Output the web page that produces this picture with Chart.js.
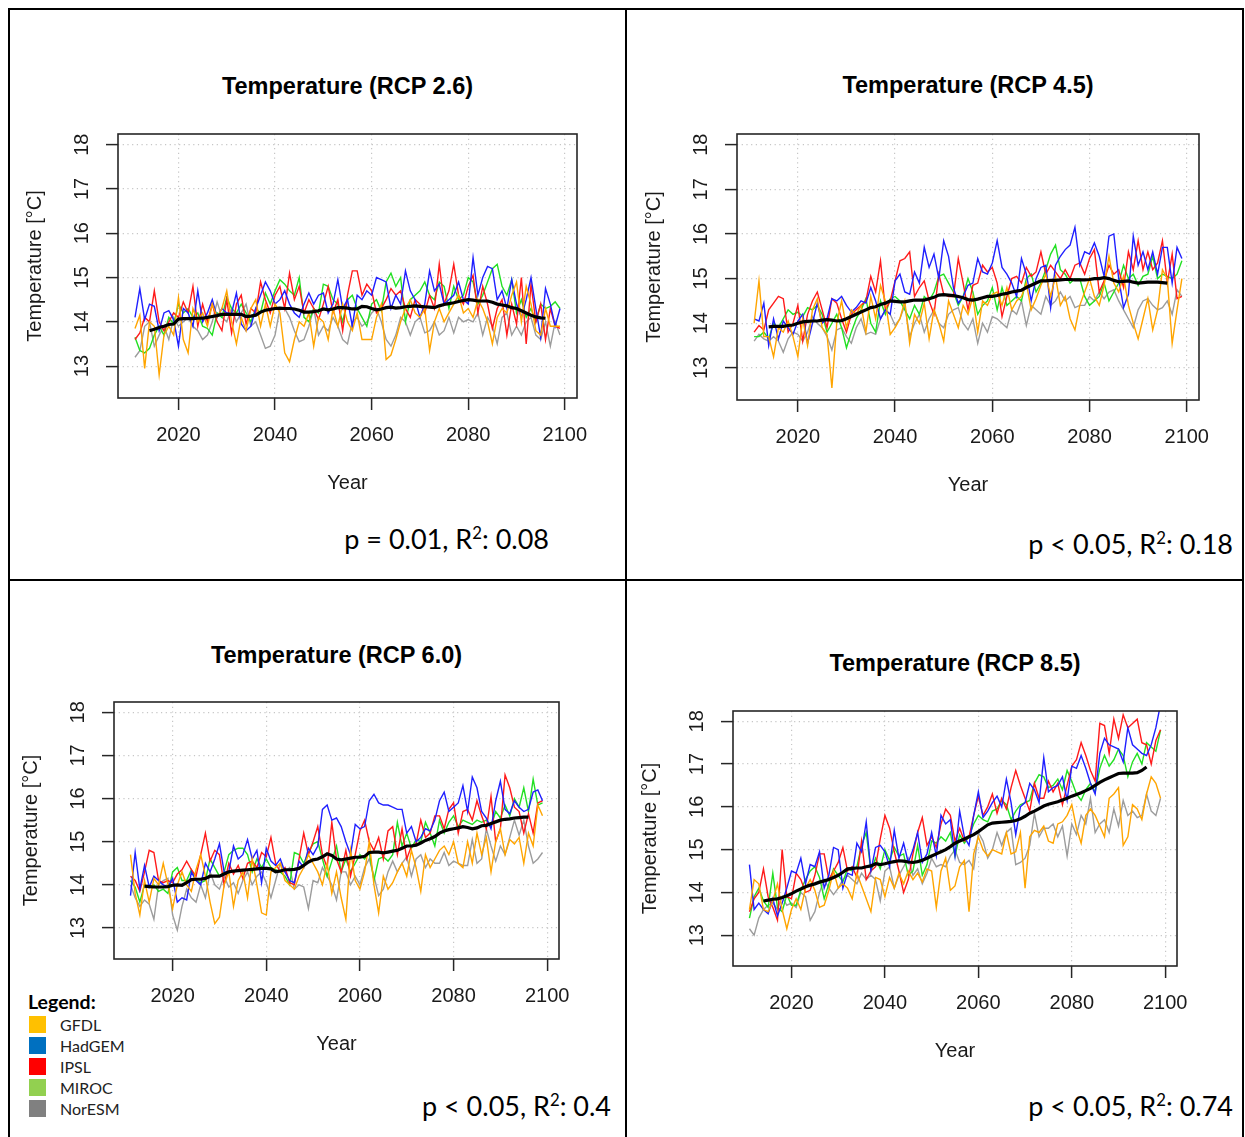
<!DOCTYPE html>
<html lang="en">
<head>
<meta charset="UTF-8">
<title>Temperature (RCP)</title>
<script src="https://cdn.jsdelivr.net/npm/chart.js@4.4.1/dist/chart.umd.min.js"></script>
<style>
  html, body { margin: 0; padding: 0; background: #fff; }
  #page { position: relative; width: 1245px; height: 1137px; overflow: hidden;
          font-family: "Liberation Sans", Arial, sans-serif; color: #1a1a1a; }
  .rule { position: absolute; background: #000; }
  canvas { position: absolute; }
  .title { position: absolute; width: 400px; text-align: center; font-weight: bold;
           font-size: 23.5px; line-height: 28px; color: #000; }
  .stat { position: absolute; font-family: Lato, "Open Sans", sans-serif; font-size: 27px;
          line-height: 32px; white-space: nowrap; color: #000; }
  .stat sup { font-size: 62%; line-height: 0; vertical-align: 0.62em; }
  .leghead { position: absolute; left: 28px; top: 991px; font-family: Lato, sans-serif;
             font-weight: bold; font-size: 19.5px; line-height: 22px; color: #000; }
  .legitem { position: absolute; left: 29px; height: 18px; font-family: Lato, sans-serif;
             font-size: 16px; line-height: 18px; color: #222; }
  .legitem span { position: absolute; left: 0; top: 0; width: 17px; height: 17px; }
  .legitem b { position: absolute; left: 31px; top: 0; font-weight: normal; white-space: nowrap; }
</style>
</head>
<body>
<div id="page">
  <div class="rule" style="left:8px;top:8px;width:2px;height:1129px"></div>
  <div class="rule" style="left:8px;top:8px;width:1236px;height:2px"></div>
  <div class="rule" style="left:625px;top:8px;width:2px;height:1129px"></div>
  <div class="rule" style="left:8px;top:579px;width:1236px;height:2px"></div>
  <div class="rule" style="left:1242px;top:8px;width:2px;height:1129px"></div>

  <div class="stat" style="right:696px;top:523px">p = 0.01, R<sup>2</sup>: 0.08</div>
  <div class="stat" style="right:12px;top:528px">p &lt; 0.05, R<sup>2</sup>: 0.18</div>
  <div class="stat" style="right:634px;top:1090px">p &lt; 0.05, R<sup>2</sup>: 0.4</div>
  <div class="stat" style="right:12px;top:1090px">p &lt; 0.05, R<sup>2</sup>: 0.74</div>

  <div class="leghead">Legend:</div>
  <div id="legend"></div>
</div>

<script>
// years of the model runs and of the smoothed ensemble line
const years = [2011, 2012, 2013, 2014, 2015, 2016, 2017, 2018, 2019, 2020,
  2021, 2022, 2023, 2024, 2025, 2026, 2027, 2028, 2029, 2030,
  2031, 2032, 2033, 2034, 2035, 2036, 2037, 2038, 2039, 2040,
  2041, 2042, 2043, 2044, 2045, 2046, 2047, 2048, 2049, 2050,
  2051, 2052, 2053, 2054, 2055, 2056, 2057, 2058, 2059, 2060,
  2061, 2062, 2063, 2064, 2065, 2066, 2067, 2068, 2069, 2070,
  2071, 2072, 2073, 2074, 2075, 2076, 2077, 2078, 2079, 2080,
  2081, 2082, 2083, 2084, 2085, 2086, 2087, 2088, 2089, 2090,
  2091, 2092, 2093, 2094, 2095, 2096, 2097, 2098, 2099];
const meanYears = years.slice(3, 86); // 2014 - 2096

const xTicks = [2020, 2040, 2060, 2080, 2100];
const yTicks = [13, 14, 15, 16, 17, 18];

const models = ['GFDL', 'HadGEM', 'IPSL', 'MIROC', 'NorESM'];
const lineColors = ['#ffa500', '#1f1fff', '#ff1a1a', '#22e022', '#9c9c9c'];
const legendColors = ['#ffc000', '#0070c0', '#ff0000', '#92d050', '#808080'];

// ---- RCP 2.6 ----
const gfdl26 = [13.85, 14.15, 12.95, 14.0, 13.9, 12.8, 13.7, 13.9, 13.7, 14.55,
  13.6, 13.3, 14.3, 14.0, 14.2, 13.9, 14.4, 14.1, 14.3, 14.7,
  14.0, 13.5, 14.1, 13.8, 14.3, 14.5, 13.9, 14.4, 13.9, 14.4,
  14.2, 13.3, 13.1, 13.6, 14.0, 13.9, 14.2, 13.45, 14.1, 14.0,
  13.6, 14.3, 13.9, 14.4, 14.0, 13.8, 14.2, 13.6, 13.6, 13.6,
  14.1, 14.4, 13.15, 13.25, 13.6, 14.0, 14.3, 14.5, 14.2, 14.1,
  14.3, 13.35, 14.0, 14.3, 14.0, 14.2, 14.4, 14.6, 14.2, 14.3,
  14.1, 14.5, 14.3, 14.0, 13.5, 14.1, 14.3, 14.2, 14.6, 14.9,
  14.0, 14.8, 14.4, 13.8, 13.7, 14.3, 13.9, 13.9, 13.9];
const hadgem26 = [14.1, 14.75, 14.05, 14.4, 14.35, 13.8, 14.2, 14.25, 14.05, 13.45,
  14.3, 14.2, 13.9, 14.7, 14.0, 14.2, 14.5, 14.1, 14.3, 14.2,
  14.2, 14.65, 13.95, 13.8, 13.9, 14.3, 14.6, 14.9, 14.7, 14.4,
  14.5, 14.7, 14.4, 14.2, 14.1, 14.4, 14.65, 14.4, 14.6, 14.65,
  14.2, 14.4, 14.95, 14.3, 14.5, 13.9, 14.6, 14.5, 14.7, 14.6,
  15.0, 14.95, 14.9, 14.3, 14.6, 14.4, 15.15, 14.7, 14.5, 14.1,
  14.4, 15.15, 14.7, 14.85, 14.4, 14.5, 14.6, 14.9, 14.5, 14.4,
  15.45, 14.6, 15.0, 15.25, 15.2, 14.5, 14.7, 14.3, 14.95, 14.4,
  14.1, 14.5, 15.0, 14.3, 13.65, 14.75, 14.4, 13.9, 14.3];
const ipsl26 = [13.6, 13.75, 14.1, 14.0, 14.7, 14.0, 13.8, 14.0, 14.2, 14.1,
  14.45, 14.2, 14.8, 13.9, 14.4, 14.0, 14.4, 14.0, 13.8, 14.5,
  13.75, 14.4, 14.6, 13.95, 14.3, 14.2, 14.9, 14.5, 14.2, 14.6,
  14.8, 14.3, 15.1, 14.5, 14.8, 14.2, 14.5, 14.3, 14.05, 14.4,
  14.8, 14.2, 14.5, 13.8, 14.6, 15.15, 15.15, 14.6, 14.85, 14.7,
  14.2, 14.3, 14.5, 14.75, 14.6, 14.7, 14.3, 14.1, 14.5, 14.4,
  14.2, 14.6, 14.3, 15.3, 14.4, 14.7, 15.3, 14.6, 14.4, 14.8,
  15.05, 14.2, 14.8, 14.4, 13.85, 14.3, 14.5, 13.7, 14.4, 13.95,
  15.0, 13.5, 14.85, 14.0, 14.4, 13.6, 14.3, 13.9, 13.85];
const miroc26 = [13.65, 13.35, 13.3, 13.4, 13.7, 13.9, 13.7, 14.1, 13.95, 14.4,
  14.2, 14.3, 14.1, 14.2, 13.9, 13.85, 13.7, 14.2, 14.1, 14.55,
  14.3, 14.2, 14.4, 14.2, 14.0, 14.3, 14.2, 14.65, 14.4, 14.7,
  14.95, 14.85, 14.7, 14.6, 15.0, 14.1, 14.0, 14.3, 14.2, 14.85,
  14.8, 14.5, 14.4, 14.0, 14.5, 14.6, 14.3, 14.1, 13.9, 14.4,
  14.5, 14.25, 14.9, 15.1, 14.8, 15.0, 14.0, 14.5, 14.6, 14.7,
  14.9, 14.6, 14.5, 14.9, 14.8, 14.3, 14.8, 14.5, 14.6, 15.0,
  14.9, 14.4, 14.6, 14.9, 15.2, 15.3, 14.8, 14.6, 14.95, 14.2,
  14.5, 14.1, 14.3, 14.0, 14.4, 14.3, 14.35, 14.45, 14.3];
const noresm26 = [13.2, 13.35, 13.9, 14.0, 13.45, 13.7, 13.9, 13.6, 14.1, 13.9,
  14.0, 14.1, 13.9, 13.8, 13.6, 13.7, 14.0, 14.45, 14.1, 14.0,
  14.3, 14.0, 14.2, 14.4, 13.9, 14.0, 13.7, 13.4, 13.45, 13.7,
  14.3, 14.3, 14.1, 13.8, 13.55, 13.6, 13.9, 14.3, 13.7, 13.9,
  13.8, 14.1, 13.9, 13.6, 13.5, 14.0, 14.1, 13.9, 14.0, 14.2,
  14.3, 14.0, 13.6, 13.45, 13.7, 14.1, 14.0, 13.7, 14.0, 14.1,
  13.75, 13.8, 14.0, 13.7, 13.8, 14.1, 13.75, 14.1, 14.0, 14.05,
  14.0, 14.2, 13.7, 14.1, 13.9, 13.5, 14.1, 14.2, 13.7, 13.9,
  13.7, 14.0, 14.1, 13.7, 13.6, 14.0, 13.45, 14.0, 13.7];
const mean26 = [13.80, 13.83, 13.87, 13.90, 13.94, 13.95, 14.06,
  14.07, 14.07, 14.07, 14.08, 14.08, 14.10, 14.12, 14.14, 14.17, 14.17,
  14.17, 14.17, 14.17, 14.12, 14.13, 14.15, 14.22, 14.26, 14.28, 14.30,
  14.31, 14.30, 14.30, 14.29, 14.26, 14.22, 14.22, 14.23, 14.25, 14.29,
  14.27, 14.29, 14.32, 14.32, 14.31, 14.29, 14.29, 14.35, 14.34, 14.30,
  14.27, 14.29, 14.32, 14.33, 14.31, 14.32, 14.34, 14.35, 14.36, 14.35,
  14.34, 14.33, 14.32, 14.36, 14.39, 14.41, 14.43, 14.46, 14.48, 14.50,
  14.49, 14.47, 14.47, 14.47, 14.44, 14.40, 14.38, 14.36, 14.32, 14.30,
  14.25, 14.20, 14.15, 14.11, 14.09, 14.08];

// ---- RCP 4.5 ----
const gfdl45 = [14.0, 14.95, 13.7, 13.7, 13.25, 13.9, 13.8, 14.05, 13.7, 13.25,
  14.1, 13.5, 14.3, 14.55, 13.9, 13.75, 12.55, 14.0, 14.5, 13.9,
  14.3, 14.2, 14.4, 13.8, 14.6, 14.1, 14.85, 14.5, 13.75, 13.9,
  14.1, 14.5, 13.55, 14.2, 14.0, 14.45, 13.65, 14.3, 14.0, 13.6,
  14.5, 14.2, 13.9, 14.4, 14.2, 14.6, 13.8, 14.5, 14.4, 14.65,
  14.7, 14.4, 14.8, 14.3, 14.5, 14.6, 14.9, 14.3, 14.55, 14.85,
  15.1, 14.6, 15.05, 14.4, 14.6, 14.1, 13.85, 14.4, 14.7, 15.0,
  14.6, 14.4, 14.85, 15.5, 14.9, 14.7, 15.05, 14.4, 14.0, 13.65,
  14.1, 14.55, 13.85, 14.3, 15.2, 15.0, 13.55, 14.3, 15.0];
const hadgem45 = [14.1, 14.05, 14.45, 13.5, 14.1, 13.65, 14.05, 13.9, 13.75, 14.05,
  14.2, 13.55, 14.0, 14.45, 14.0, 14.1, 14.55, 14.5, 14.6, 14.4,
  14.25, 14.35, 14.5, 14.45, 14.8, 14.5, 14.1, 14.3, 14.2, 14.95,
  15.1, 14.7, 14.65, 15.15, 14.9, 15.7, 15.25, 15.55, 15.0, 15.85,
  15.5, 14.8, 14.45, 14.6, 14.85, 14.9, 15.45, 15.15, 15.1, 15.35,
  15.85, 15.25, 15.1, 14.9, 14.6, 15.45, 15.1, 14.5, 15.0, 15.25,
  15.3, 14.35, 15.3, 15.5, 15.65, 15.75, 16.15, 15.3, 15.6, 15.55,
  15.8, 15.5, 15.05, 15.95, 16.0, 15.0, 14.35, 14.65, 15.95, 15.3,
  15.6, 15.2, 15.6, 15.1, 15.7, 15.7, 14.9, 15.7, 15.45];
const ipsl45 = [13.8, 13.95, 13.85, 14.3, 14.45, 14.6, 14.55, 13.8, 14.0, 14.4,
  13.6, 14.2, 14.5, 14.7, 14.3, 13.9, 14.55, 14.45, 14.1, 13.8,
  14.2, 14.3, 14.4, 14.5, 15.05, 14.7, 15.4, 14.3, 14.5, 14.95,
  15.4, 15.45, 15.6, 14.6, 14.8, 14.95, 14.5, 14.2, 15.1, 14.65,
  14.6, 14.6, 15.45, 14.9, 14.3, 14.85, 14.9, 15.3, 15.15, 15.25,
  14.9, 14.15, 14.6, 15.0, 15.05, 14.9, 15.25, 15.05, 15.15, 15.6,
  15.1, 15.3, 15.15, 15.0, 15.2, 15.0, 15.3, 15.35, 15.1, 15.45,
  15.65, 14.7, 14.95, 15.3, 15.1, 15.2, 14.8, 15.6, 15.2, 15.85,
  15.2, 15.6, 15.2, 15.35, 15.85, 14.9, 15.55, 14.55, 14.6];
const miroc45 = [13.7, 13.7, 13.8, 13.65, 14.0, 13.9, 14.1, 14.3, 14.2, 14.25,
  14.15, 14.35, 14.3, 14.4, 14.2, 13.8, 14.0, 14.2, 13.9, 13.45,
  13.8, 14.1, 14.3, 14.55, 14.0, 13.8, 14.5, 14.2, 14.55, 14.6,
  14.5, 14.3, 14.1, 14.4, 14.2, 14.6, 14.5, 14.7, 15.05, 15.1,
  14.9, 14.7, 14.4, 14.6, 15.0, 14.7, 14.2, 14.4, 14.5, 14.8,
  14.3, 14.8, 14.4, 14.5, 14.6, 14.5, 15.0, 15.1, 14.7, 14.9,
  15.2, 15.55, 15.75, 15.2, 15.1, 14.9, 15.0, 15.0, 14.6, 14.4,
  14.5, 14.6, 14.9, 14.5, 14.7, 14.9, 15.3, 15.0, 15.1, 14.85,
  15.05, 15.1, 15.5, 15.0, 15.1, 15.05, 15.0, 15.1, 15.4];
const noresm45 = [13.6, 13.75, 13.65, 13.6, 13.7, 13.6, 13.35, 13.65, 13.8, 13.75,
  13.6, 13.8, 14.15, 14.0, 13.9, 13.7, 13.4, 13.85, 13.9, 13.7,
  13.55, 13.9, 14.1, 13.75, 13.8, 13.75, 14.1, 14.3, 14.2, 13.95,
  14.1, 14.4, 13.7, 14.0, 14.2, 13.8, 14.1, 14.3, 14.0, 13.9,
  14.2, 14.3, 14.35, 14.0, 13.85, 14.1, 13.55, 14.0, 13.8, 14.15,
  14.1, 14.0, 13.9, 14.3, 14.2, 14.5, 13.95, 14.4, 14.3, 14.2,
  14.6, 14.4, 14.5, 14.7, 14.5, 14.6, 14.35, 14.4, 14.4, 14.6,
  14.5, 14.7, 14.55, 14.7, 14.75, 14.5, 14.3, 14.1, 13.9, 14.3,
  14.5, 14.55, 14.4, 14.3, 14.35, 14.5, 14.2, 14.75, 14.6];
const mean45 = [13.92, 13.93, 13.93, 13.93, 13.95, 13.96, 14.00,
  14.03, 14.04, 14.05, 14.05, 14.07, 14.08, 14.07, 14.05, 14.06, 14.10,
  14.15, 14.20, 14.25, 14.30, 14.35, 14.37, 14.42, 14.45, 14.50, 14.49,
  14.48, 14.48, 14.50, 14.52, 14.52, 14.52, 14.55, 14.58, 14.63, 14.64,
  14.63, 14.62, 14.60, 14.57, 14.53, 14.52, 14.54, 14.57, 14.60, 14.60,
  14.62, 14.65, 14.67, 14.70, 14.72, 14.74, 14.80, 14.85, 14.90, 14.95,
  14.95, 14.96, 14.96, 14.97, 14.98, 14.98, 14.97, 14.97, 14.97, 14.98,
  15.00, 15.00, 15.02, 15.00, 14.96, 14.93, 14.94, 14.95, 14.92, 14.90,
  14.91, 14.92, 14.92, 14.92, 14.91, 14.90];

// ---- RCP 6.0 ----
const gfdl60 = [14.7, 13.8, 13.3, 14.1, 13.6, 14.15, 14.0, 14.5, 14.0, 13.45,
  14.0, 14.3, 14.0, 13.85, 14.35, 14.7, 14.2, 13.6, 13.1, 13.25,
  14.0, 14.3, 13.5, 14.1, 14.3, 13.7, 14.6, 14.0, 13.35, 13.3,
  14.3, 14.4, 14.5, 14.1, 14.0, 13.9, 14.2, 14.4, 14.7, 14.5,
  14.3, 14.0, 14.5, 13.8, 14.3, 13.7, 13.2, 14.8, 14.1, 13.9,
  14.3, 15.0, 14.0, 13.35, 14.2, 13.9, 14.05, 14.3, 14.5, 14.2,
  14.8, 14.4, 13.85, 14.7, 14.4, 14.6, 14.8, 14.9, 14.7, 15.0,
  14.5, 14.4, 15.0, 14.5, 15.2, 14.7, 15.1, 14.3, 15.0, 15.3,
  14.7, 15.05, 14.95, 15.1, 14.5, 15.2, 14.9, 15.85, 15.6];
const hadgem60 = [13.75, 14.75, 13.9, 14.45, 13.95, 14.2, 14.1, 14.0, 13.95, 14.15,
  13.6, 13.7, 13.65, 14.3, 14.1, 14.0, 14.5, 14.3, 14.6, 14.95,
  14.3, 14.3, 14.9, 14.6, 14.7, 15.05, 14.6, 14.8, 14.05, 14.85,
  14.55, 14.45, 14.6, 14.3, 14.1, 14.05, 14.55, 14.4, 14.85, 14.7,
  14.9, 15.75, 15.85, 15.5, 15.55, 15.35, 15.0, 14.7, 15.4, 15.3,
  15.35, 15.95, 16.1, 15.9, 15.85, 15.85, 15.8, 15.75, 15.75, 15.2,
  15.35, 15.0, 15.1, 15.3, 15.25, 15.5, 15.95, 16.15, 15.7, 15.8,
  15.9, 16.3, 15.7, 16.5, 16.25, 15.7, 15.55, 15.3, 15.95, 16.4,
  15.75, 15.65, 15.95, 15.8, 15.7, 15.75, 16.15, 16.2, 15.95];
const ipsl60 = [14.2, 14.1, 13.85, 14.3, 14.8, 14.75, 14.1, 14.05, 14.1, 14.05,
  14.25, 14.35, 14.55, 14.35, 14.2, 14.7, 15.2, 14.55, 14.8, 14.7,
  14.0, 14.5, 14.25, 14.45, 14.15, 14.5, 14.55, 14.4, 14.75, 14.65,
  15.1, 14.5, 14.3, 14.4, 14.05, 14.0, 14.6, 15.2, 14.7, 15.0,
  15.35, 14.7, 14.4, 15.45, 14.6, 14.3, 14.8, 14.2, 14.7, 15.25,
  15.5, 15.0, 14.8, 15.1, 14.6, 15.25, 15.35, 14.7, 15.3, 14.6,
  14.9, 14.95, 15.5, 15.1, 15.2, 15.6, 15.6, 15.3, 15.75, 15.9,
  15.2, 15.7, 15.75, 15.5, 15.95, 15.6, 15.3, 16.05, 15.0, 15.3,
  16.55, 16.25, 15.8, 15.7, 15.2, 15.65, 15.2, 15.9, 15.95];
const miroc60 = [14.1, 13.95, 13.6, 14.0, 13.95, 14.0, 13.85, 13.9, 13.8, 14.3,
  14.4, 14.1, 14.1, 14.35, 14.1, 14.05, 14.1, 14.6, 14.4, 14.2,
  14.3, 14.7, 14.8, 14.85, 14.85, 14.7, 14.3, 14.6, 14.4, 14.6,
  14.4, 14.35, 14.3, 14.2, 14.0, 14.75, 14.7, 14.5, 14.75, 14.95,
  15.0, 14.6, 14.2, 14.55, 14.9, 14.3, 14.6, 14.3, 14.5, 14.7,
  14.6, 14.75, 14.1, 14.6, 14.65, 14.55, 14.7, 15.45, 14.9, 15.2,
  14.85, 15.05, 15.0, 15.45, 15.2, 14.9, 15.5, 15.2, 15.45, 15.6,
  15.35, 15.5, 15.45, 15.4, 15.5, 15.45, 15.5, 15.35, 15.7, 15.55,
  15.85, 15.6, 16.0, 15.8, 16.25, 15.7, 16.45, 15.85, 15.9];
const noresm60 = [14.0, 13.7, 13.5, 13.65, 13.55, 13.2, 14.0, 14.1, 14.15, 13.3,
  12.95, 13.5, 13.9, 13.7, 13.6, 14.0, 13.7, 14.3, 14.0, 13.9,
  14.2, 13.95, 14.05, 13.8, 14.1, 14.3, 14.0, 14.2, 14.3, 14.05,
  13.7, 14.1, 14.5, 14.3, 14.4, 13.9, 14.0, 13.95, 13.45, 14.1,
  14.05, 14.4, 14.2, 14.0, 13.65, 14.3, 14.3, 14.0, 14.2, 14.0,
  14.4, 14.6, 14.2, 13.75, 13.9, 14.3, 14.55, 14.3, 14.5, 14.65,
  14.2, 14.6, 14.7, 14.4, 14.6, 14.5, 14.5, 14.75, 14.45, 14.55,
  14.5, 14.45, 14.45, 15.05, 14.5, 14.6, 15.3, 14.9, 14.55, 14.9,
  14.7, 15.1, 15.5, 15.15, 15.5, 14.9, 14.5, 14.6, 14.75];
const mean60 = [13.97, 13.96, 13.95, 13.95, 13.95, 13.96, 13.99,
  14.00, 13.99, 14.05, 14.12, 14.13, 14.13, 14.15, 14.20, 14.20, 14.20,
  14.25, 14.30, 14.32, 14.33, 14.34, 14.35, 14.36, 14.37, 14.38, 14.38,
  14.37, 14.30, 14.32, 14.35, 14.35, 14.36, 14.38, 14.45, 14.53, 14.58,
  14.60, 14.65, 14.72, 14.68, 14.60, 14.58, 14.60, 14.62, 14.64, 14.64,
  14.66, 14.75, 14.76, 14.76, 14.74, 14.76, 14.78, 14.80, 14.85, 14.90,
  14.90, 14.92, 14.97, 15.03, 15.07, 15.12, 15.20, 15.25, 15.28, 15.30,
  15.32, 15.35, 15.33, 15.30, 15.32, 15.37, 15.38, 15.42, 15.46, 15.50,
  15.52, 15.53, 15.55, 15.56, 15.57, 15.57];

// ---- RCP 8.5 ----
const gfdl85 = [13.6, 14.3, 14.2, 13.6, 13.55, 13.8, 14.2, 13.6, 13.15, 13.6,
  13.85, 13.6, 14.1, 14.3, 14.05, 13.65, 13.7, 14.05, 14.5, 14.1,
  14.2, 14.1, 13.85, 14.45, 14.15, 13.85, 13.55, 14.35, 14.3, 13.9,
  14.35, 14.1, 14.45, 14.2, 14.5, 14.3, 14.45, 14.25, 14.55, 14.5,
  13.65, 14.5, 14.8, 14.05, 14.15, 14.6, 14.75, 13.55, 14.9, 15.3,
  15.0, 14.85, 15.0, 14.95, 14.9, 15.4, 14.9, 14.95, 15.4, 14.1,
  15.3, 15.45, 15.4, 15.55, 15.2, 15.15, 15.6, 15.65, 15.8, 16.05,
  15.5, 15.15, 15.8, 15.95, 15.8, 15.55, 15.3, 16.2, 16.3, 16.45,
  15.1, 15.3, 16.05, 15.95, 15.7, 16.3, 16.7, 16.55, 16.2];
const hadgem85 = [14.65, 13.6, 13.75, 13.6, 13.5, 13.85, 13.45, 13.75, 14.1, 14.5,
  14.45, 14.8, 14.2, 14.65, 14.6, 14.95, 14.1, 14.4, 15.05, 15.0,
  14.1, 14.45, 14.4, 15.15, 14.95, 15.65, 14.5, 15.05, 15.1, 14.95,
  14.6, 15.45, 14.8, 15.15, 14.7, 15.0, 15.4, 14.7, 14.9, 15.4,
  14.85, 15.8, 15.6, 15.7, 14.85, 15.9, 15.3, 15.1, 15.8, 16.35,
  15.75, 15.9, 16.1, 16.25, 16.0, 16.65, 16.1, 15.35, 16.0, 16.1,
  16.55, 16.4, 16.1, 17.15, 16.35, 16.45, 16.5, 16.7, 16.15, 16.95,
  16.9, 17.2, 16.9, 16.55, 16.3, 17.25, 17.6, 17.45, 17.4, 17.35,
  17.05, 17.85, 17.45, 17.35, 17.25, 17.2, 17.45, 17.85, 18.4];
const ipsl85 = [13.55, 13.85, 14.0, 14.55, 13.9, 13.65, 13.35, 15.0, 13.9, 13.85,
  14.45, 14.3, 14.0, 14.05, 14.4, 14.9, 14.9, 14.3, 14.5, 14.7,
  15.05, 14.5, 14.6, 14.35, 15.2, 14.3, 14.5, 14.6, 15.25, 15.8,
  15.5, 14.95, 14.5, 14.0, 14.3, 14.9, 15.4, 15.75, 15.1, 15.3,
  15.05, 15.6, 15.95, 15.8, 15.2, 15.5, 15.2, 15.3, 15.8, 16.25,
  15.8, 16.0, 16.3, 15.85, 16.2, 15.95, 16.45, 16.85, 16.5, 16.2,
  15.9, 16.55, 16.2, 16.2, 16.6, 16.35, 16.55, 16.05, 16.5, 16.95,
  17.1, 17.5, 17.2, 16.85, 16.6, 17.95, 17.9, 17.25, 18.05, 17.6,
  18.15, 17.85, 17.95, 18.05, 17.5, 17.45, 17.0, 17.55, 17.8];
const miroc85 = [13.4, 13.9, 14.1, 13.8, 13.65, 14.45, 13.65, 13.55, 13.95, 13.7,
  13.7, 14.05, 14.3, 14.5, 14.6, 14.35, 13.85, 14.2, 14.55, 14.4,
  14.25, 14.55, 14.5, 14.6, 15.1, 15.4, 14.5, 14.8, 14.55, 15.0,
  14.75, 15.05, 14.85, 14.9, 14.4, 14.5, 15.1, 14.4, 14.65, 15.2,
  15.15, 15.3, 15.2, 15.4, 14.85, 15.35, 15.15, 15.3, 15.6, 15.8,
  15.7, 15.65, 15.9, 15.95, 16.15, 16.05, 15.7, 15.9, 16.05, 16.1,
  16.15, 16.55, 16.75, 16.7, 16.45, 16.5, 16.65, 16.4, 16.85, 16.6,
  16.3, 16.15, 16.4, 16.55, 16.35, 16.9, 17.2, 16.95, 17.1, 17.35,
  17.2, 16.7, 17.05, 17.25, 17.0, 17.5, 17.4, 17.3, 17.8];
const noresm85 = [13.15, 13.0, 13.4, 13.6, 13.7, 13.75, 13.6, 13.9, 13.7, 13.75,
  13.65, 14.0, 13.9, 13.35, 13.55, 14.0, 14.3, 14.1, 13.95, 14.1,
  14.3, 14.4, 14.3, 14.2, 14.45, 14.3, 14.4, 14.3, 13.8, 14.5,
  14.6, 14.1, 14.4, 14.6, 14.8, 14.4, 14.55, 14.2, 14.45, 14.8,
  14.6, 14.65, 14.6, 14.85, 15.0, 14.7, 14.65, 14.75, 14.55, 15.4,
  15.2, 14.8, 15.0, 15.4, 15.1, 15.4, 15.5, 14.65, 14.7, 14.8,
  15.1, 15.85, 15.3, 15.5, 15.5, 15.6, 15.3, 15.55, 14.85, 15.6,
  15.35, 15.8, 15.6, 16.2, 15.4, 15.6, 15.7, 15.4, 15.95, 15.55,
  16.15, 15.8, 15.9, 15.75, 15.8, 16.3, 15.9, 15.8, 16.2];
const mean85 = [13.80, 13.82, 13.84, 13.85, 13.88, 13.92, 13.97,
  14.03, 14.08, 14.13, 14.17, 14.20, 14.24, 14.27, 14.30, 14.35, 14.40,
  14.47, 14.55, 14.56, 14.57, 14.57, 14.60, 14.62, 14.67, 14.65, 14.67,
  14.70, 14.72, 14.74, 14.73, 14.71, 14.70, 14.72, 14.75, 14.80, 14.85,
  14.90, 14.95, 15.00, 15.07, 15.15, 15.20, 15.25, 15.30, 15.35, 15.42,
  15.50, 15.58, 15.62, 15.63, 15.64, 15.65, 15.66, 15.68, 15.72, 15.78,
  15.85, 15.90, 15.96, 16.02, 16.06, 16.09, 16.12, 16.16, 16.20, 16.25,
  16.29, 16.33, 16.38, 16.43, 16.50, 16.57, 16.63, 16.68, 16.73, 16.78,
  16.79, 16.79, 16.79, 16.80, 16.85, 16.93];

const panels = [
  { title: 'Temperature (RCP 2.6)', titleY: 86, box: { l: 118, t: 134, r: 577, b: 398 },
    series: [gfdl26, hadgem26, ipsl26, miroc26, noresm26], mean: mean26 },
  { title: 'Temperature (RCP 4.5)', titleY: 85, box: { l: 737, t: 134, r: 1199, b: 400 },
    series: [gfdl45, hadgem45, ipsl45, miroc45, noresm45], mean: mean45 },
  { title: 'Temperature (RCP 6.0)', titleY: 655, box: { l: 114, t: 702, r: 559, b: 959 },
    series: [gfdl60, hadgem60, ipsl60, miroc60, noresm60], mean: mean60 },
  { title: 'Temperature (RCP 8.5)', titleY: 663, box: { l: 733, t: 711, r: 1177, b: 966 },
    series: [gfdl85, hadgem85, ipsl85, miroc85, noresm85], mean: mean85 }
];

Chart.defaults.font.family = '"Liberation Sans", Arial, sans-serif';
Chart.defaults.color = '#1a1a1a';

const page = document.getElementById('page');

// R style box round the plotting region
const boxPlugin = {
  id: 'rbox',
  afterDraw(chart) {
    const a = chart.chartArea, ctx = chart.ctx;
    ctx.save();
    ctx.strokeStyle = '#262626';
    ctx.lineWidth = 1.6;
    ctx.strokeRect(a.left, a.top, a.right - a.left, a.bottom - a.top);
    ctx.restore();
  }
};

function toPoints(xs, ys) {
  return ys.map((v, i) => ({ x: xs[i], y: v }));
}

function drawPanel(p) {
  const padL = 5, padT = 30, padR = 35, padB = 5, axW = 100, axH = 100;
  const left = p.box.l - axW - padL, top = p.box.t - padT;
  const w = p.box.r + padR - left, h = p.box.b + axH + padB - top;

  const t = document.createElement('div');
  t.className = 'title';
  t.textContent = p.title;
  t.style.left = ((p.box.l + p.box.r) / 2 - 200) + 'px';
  t.style.top = (p.titleY - 14) + 'px';
  page.appendChild(t);

  const cv = document.createElement('canvas');
  cv.width = w; cv.height = h;
  cv.style.left = left + 'px'; cv.style.top = top + 'px';
  cv.style.width = w + 'px'; cv.style.height = h + 'px';
  page.appendChild(cv);

  // black smoothed line first so it is drawn on top
  const datasets = [{ data: toPoints(meanYears, p.mean), borderColor: '#000', borderWidth: 3.2 }];
  p.series.forEach((s, i) => {
    datasets.push({ label: models[i], data: toPoints(years, s), borderColor: lineColors[i], borderWidth: 1.4 });
  });

  const grid = { color: '#c6c6c6', lineWidth: 1.2, tickLength: 12, tickColor: '#262626', tickWidth: 1.5 };
  const border = { display: false, dash: [1.2, 3.5] };

  new Chart(cv, {
    type: 'line',
    data: { datasets },
    options: {
      responsive: false,
      animation: false,
      devicePixelRatio: 1,
      layout: { padding: { left: padL, top: padT, right: padR, bottom: padB } },
      elements: { point: { radius: 0 }, line: { tension: 0, fill: false } },
      plugins: { legend: { display: false }, tooltip: { enabled: false } },
      scales: {
        x: {
          type: 'linear', min: 2007.48, max: 2102.52,
          afterBuildTicks: s => { s.ticks = xTicks.map(v => ({ value: v })); },
          afterFit: s => { s.height = axH; },
          grid, border,
          ticks: { autoSkip: false, maxRotation: 0, padding: 13, font: { size: 20 }, callback: v => String(v) },
          title: { display: true, text: 'Year', font: { size: 20 }, padding: { top: 0, bottom: 3 } }
        },
        y: {
          type: 'linear', min: 12.28, max: 18.24,
          afterBuildTicks: s => { s.ticks = yTicks.map(v => ({ value: v })); },
          afterFit: s => { s.width = axW; },
          grid, border,
          ticks: { autoSkip: false, minRotation: 90, maxRotation: 90, crossAlign: 'center', padding: 12,
                   font: { size: 20 }, callback: v => String(v) },
          title: { display: true, text: 'Temperature [°C]', font: { size: 20 }, padding: { top: 5, bottom: 0 } }
        }
      }
    },
    plugins: [boxPlugin]
  });
}

panels.forEach(drawPanel);

// legend under the RCP 6.0 panel
const legend = document.getElementById('legend');
models.forEach((m, i) => {
  const d = document.createElement('div');
  d.className = 'legitem';
  d.style.top = (1016 + i * 21) + 'px';
  d.innerHTML = '<span style="background:' + legendColors[i] + '"></span><b>' + m + '</b>';
  legend.appendChild(d);
});
</script>
</body>
</html>
